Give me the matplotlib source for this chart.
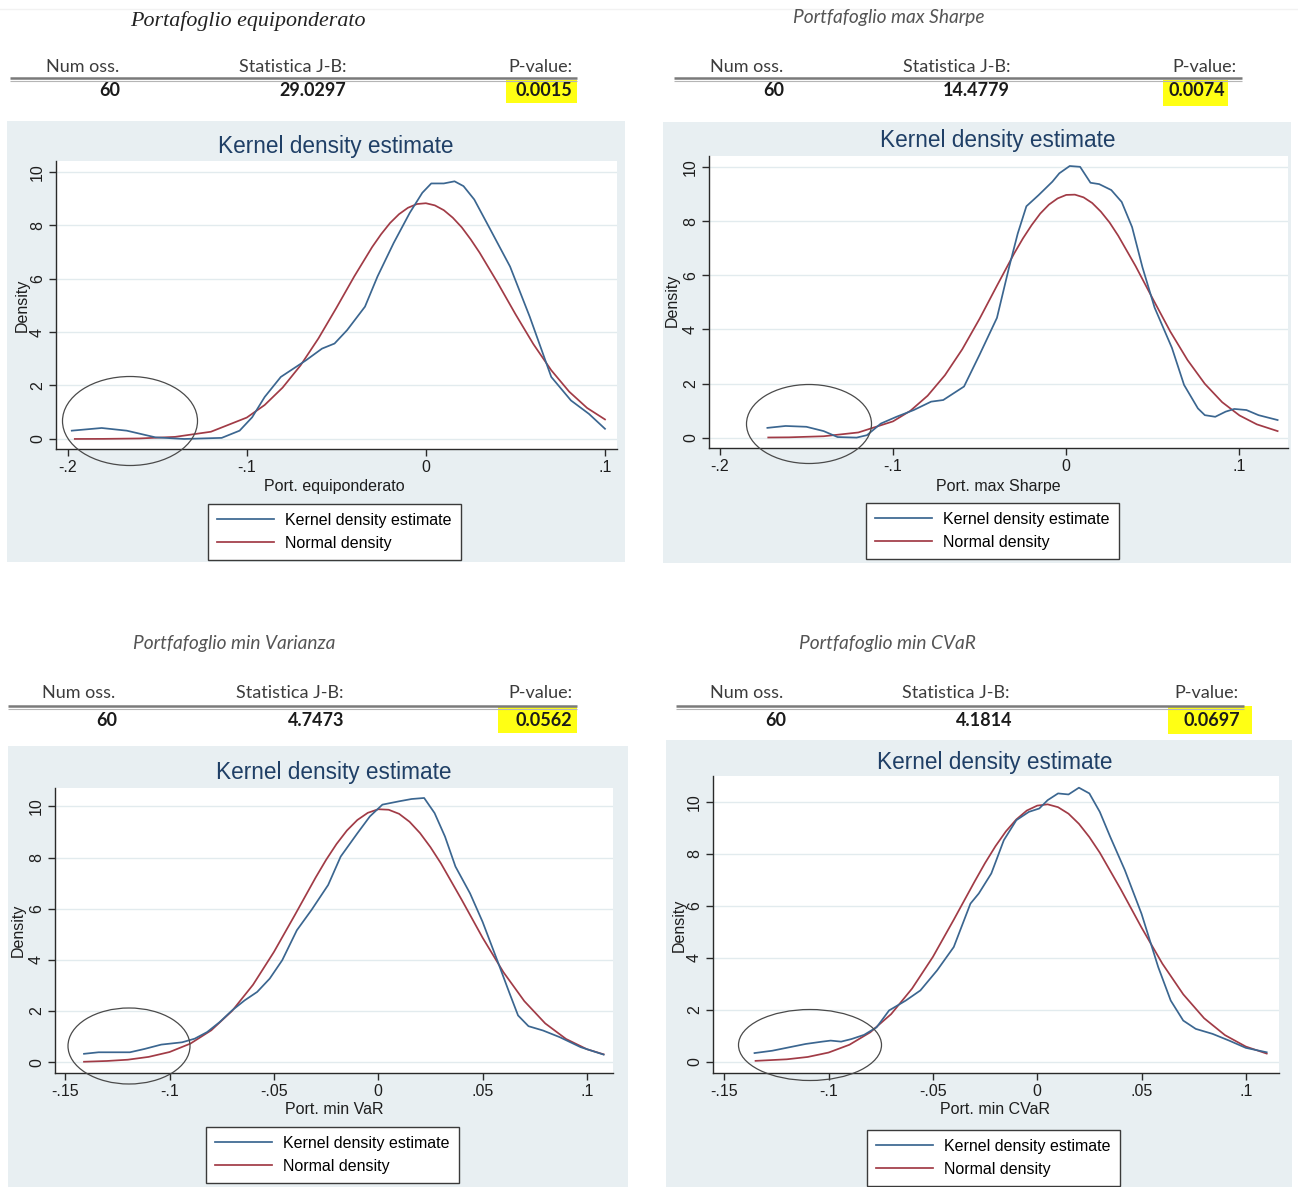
import matplotlib
matplotlib.use("Agg")
import matplotlib.pyplot as plt
from matplotlib.patches import Rectangle, Ellipse

W, H = 1298, 1187

# ---------------- data ----------------
titles = ["Portafoglio equiponderato", "Portfafoglio max Sharpe",
          "Portfafoglio min Varianza", "Portfafoglio min CVaR"]
header_labels = ["Num oss.", "Statistica J-B:", "P-value:"]
num_obs = ["60", "60", "60", "60"]
jb_stat = ["29.0297", "14.4779", "4.7473", "4.1814"]
p_values = ["0.0015", "0.0074", "0.0562", "0.0697"]
x_labels = ["Port. equiponderato", "Port. max Sharpe", "Port. min VaR", "Port. min CVaR"]
legend_labels = ["Kernel density estimate", "Normal density"]
plot_title = "Kernel density estimate"
y_label = "Density"

y_ticks = [0, 2, 4, 6, 8, 10]
y_ticklabels = ["0", "2", "4", "6", "8", "10"]
x_ticks_top = [-0.2, -0.1, 0.0, 0.1]
x_ticklabels_top = ["-.2", "-.1", "0", ".1"]
x_ticks_bottom = [-0.15, -0.1, -0.05, 0.0, 0.05, 0.1]
x_ticklabels_bottom = ["-.15", "-.1", "-.05", "0", ".05", ".1"]

# Panel 1: equiponderato
kde1_x = [-0.1977, -0.181, -0.167, -0.151, -0.135, -0.114, -0.104, -0.097, -0.090, -0.081,
          -0.067, -0.058, -0.051, -0.044, -0.034, -0.027, -0.018, -0.009, -0.002, 0.003,
          0.010, 0.016, 0.021, 0.027, 0.035, 0.047, 0.058, 0.070, 0.081, 0.091, 0.100]
kde1_y = [0.31, 0.41, 0.31, 0.06, 0.00, 0.04, 0.31, 0.81, 1.57, 2.32,
          2.94, 3.38, 3.57, 4.07, 4.95, 6.08, 7.33, 8.46, 9.21, 9.56,
          9.56, 9.64, 9.46, 8.96, 7.96, 6.45, 4.57, 2.32, 1.44, 0.94, 0.38]
norm1_x = [-0.196, -0.18, -0.16, -0.14, -0.12, -0.10, -0.09, -0.08, -0.07, -0.06, -0.05,
           -0.04, -0.03, -0.025, -0.02, -0.015, -0.01, -0.005, 0.0, 0.005, 0.01, 0.015,
           0.02, 0.025, 0.03, 0.04, 0.05, 0.06, 0.07, 0.08, 0.09, 0.10]
norm1_y = [0.00, 0.003, 0.018, 0.078, 0.27, 0.80, 1.27, 1.92, 2.75, 3.76, 4.90,
           6.08, 7.18, 7.66, 8.08, 8.41, 8.65, 8.79, 8.82, 8.74, 8.56, 8.28,
           7.92, 7.47, 6.97, 5.85, 4.67, 3.55, 2.57, 1.77, 1.16, 0.73]

# Panel 2: max Sharpe
kde2_x = [-0.1725, -0.162, -0.150, -0.140, -0.132, -0.121, -0.115, -0.107, -0.098, -0.088,
          -0.078, -0.071, -0.059, -0.050, -0.040, -0.033, -0.028, -0.023, -0.016, -0.008,
          -0.004, 0.002, 0.008, 0.014, 0.019, 0.026, 0.032, 0.038, 0.044, 0.051,
          0.061, 0.068, 0.076, 0.080, 0.086, 0.092, 0.097, 0.104, 0.111, 0.122]
kde2_y = [0.36, 0.43, 0.40, 0.24, 0.02, 0.00, 0.09, 0.52, 0.77, 1.02,
          1.33, 1.39, 1.89, 3.07, 4.43, 6.30, 7.55, 8.56, 8.97, 9.47,
          9.78, 10.05, 10.02, 9.43, 9.38, 9.16, 8.72, 7.79, 6.30, 4.81,
          3.32, 1.95, 1.08, 0.83, 0.77, 0.96, 1.06, 1.02, 0.83, 0.65]
norm2_x = [-0.172, -0.16, -0.14, -0.12, -0.10, -0.09, -0.08, -0.07, -0.06, -0.05, -0.04,
           -0.03, -0.025, -0.02, -0.015, -0.01, -0.005, 0.0, 0.005, 0.01, 0.015, 0.02,
           0.025, 0.03, 0.04, 0.05, 0.06, 0.07, 0.08, 0.09, 0.10, 0.11, 0.122]
norm2_y = [0.004, 0.01, 0.05, 0.19, 0.60, 0.99, 1.55, 2.31, 3.27, 4.40, 5.62,
           6.82, 7.37, 7.86, 8.29, 8.62, 8.85, 8.98, 8.99, 8.89, 8.68, 8.36,
           7.96, 7.47, 6.35, 5.13, 3.93, 2.87, 1.99, 1.31, 0.82, 0.49, 0.24]

# Panel 3: min Varianza
kde3_x = [-0.141, -0.134, -0.126, -0.119, -0.112, -0.104, -0.094, -0.088, -0.082, -0.076,
          -0.070, -0.064, -0.058, -0.052, -0.046, -0.039, -0.032, -0.024, -0.018, -0.010,
          -0.004, 0.002, 0.010, 0.016, 0.022, 0.027, 0.032, 0.037, 0.044, 0.050,
          0.057, 0.063, 0.067, 0.072, 0.079, 0.087, 0.097, 0.108]
kde3_y = [0.33, 0.39, 0.39, 0.39, 0.52, 0.69, 0.78, 0.92, 1.18, 1.57,
          2.03, 2.42, 2.75, 3.27, 3.99, 5.16, 5.95, 6.93, 8.04, 8.95,
          9.61, 10.07, 10.20, 10.29, 10.33, 9.74, 8.82, 7.65, 6.60, 5.49,
          3.99, 2.68, 1.83, 1.41, 1.24, 0.98, 0.59, 0.30]
norm3_x = [-0.141, -0.13, -0.12, -0.11, -0.10, -0.09, -0.08, -0.07, -0.06, -0.05, -0.04,
           -0.03, -0.025, -0.02, -0.015, -0.01, -0.005, 0.0, 0.005, 0.01, 0.015, 0.02,
           0.025, 0.03, 0.04, 0.05, 0.06, 0.07, 0.08, 0.09, 0.10, 0.108]
norm3_y = [0.02, 0.05, 0.10, 0.21, 0.40, 0.73, 1.25, 2.01, 3.03, 4.31, 5.75,
           7.22, 7.91, 8.53, 9.06, 9.47, 9.75, 9.89, 9.87, 9.71, 9.40, 8.96,
           8.41, 7.78, 6.35, 4.87, 3.52, 2.39, 1.52, 0.91, 0.51, 0.31]

# Panel 4: min CVaR
kde4_x = [-0.1355, -0.127, -0.119, -0.111, -0.103, -0.099, -0.094, -0.089, -0.083, -0.077,
          -0.071, -0.063, -0.056, -0.048, -0.040, -0.032, -0.028, -0.022, -0.016, -0.010,
          -0.004, 0.001, 0.005, 0.010, 0.015, 0.020, 0.025, 0.030, 0.035, 0.042,
          0.050, 0.058, 0.064, 0.070, 0.076, 0.084, 0.092, 0.100, 0.110]
kde4_y = [0.33, 0.42, 0.55, 0.68, 0.77, 0.81, 0.77, 0.87, 1.03, 1.32,
          1.97, 2.35, 2.74, 3.51, 4.41, 6.08, 6.47, 7.24, 8.52, 9.29,
          9.61, 9.74, 10.06, 10.32, 10.28, 10.54, 10.32, 9.61, 8.65, 7.37,
          5.69, 3.64, 2.35, 1.58, 1.26, 1.07, 0.81, 0.53, 0.36]
norm4_x = [-0.135, -0.12, -0.11, -0.10, -0.09, -0.08, -0.07, -0.06, -0.05, -0.04,
           -0.03, -0.025, -0.02, -0.015, -0.01, -0.005, 0.0, 0.005, 0.01, 0.015, 0.02,
           0.025, 0.03, 0.04, 0.05, 0.06, 0.07, 0.08, 0.09, 0.10, 0.11]
norm4_y = [0.03, 0.09, 0.18, 0.35, 0.65, 1.13, 1.83, 2.81, 4.03, 5.46,
           6.93, 7.64, 8.29, 8.86, 9.32, 9.66, 9.85, 9.90, 9.79, 9.54, 9.15,
           8.64, 8.04, 6.64, 5.16, 3.77, 2.59, 1.67, 1.02, 0.58, 0.31]

kde_x = [kde1_x, kde2_x, kde3_x, kde4_x]
kde_y = [kde1_y, kde2_y, kde3_y, kde4_y]
norm_x = [norm1_x, norm2_x, norm3_x, norm4_x]
norm_y = [norm1_y, norm2_y, norm3_y, norm4_y]

# ---------------- layout (pixels) ----------------
panels = [
    dict(bg=(7, 121, 625, 562), ax=(56, 161, 617, 449), xlim=(-0.2065, 0.1067), ylim=(-0.376, 10.4),
         title=(336, 147), ylab=(22, 305), xlab=(334, 487), leg=(208, 504), ell=(130, 421, 135, 89),
         top=True,
         head=dict(t=(248, 21), serif=True, hy=67, nx=83, sx=293, pr=572, rule=(10, 577, 78),
                   vy=91, vr=(120, 346, 572), hl=(506, 80, 577, 103))),
    dict(bg=(663, 122, 1291, 563), ax=(709, 156, 1288, 448), xlim=(-0.2062, 0.128), ylim=(-0.385, 10.42),
         title=(998, 141), ylab=(672, 300), xlab=(998, 487), leg=(866, 503), ell=(809, 424, 125, 79),
         top=True,
         head=dict(t=(889, 17), serif=False, hy=67, nx=747, sx=957, pr=1237, rule=(674, 1242, 78),
                   vy=91, vr=(784, 1010, 1225), hl=(1163, 80, 1228, 106))),
    dict(bg=(8, 746, 628, 1187), ax=(55, 788, 613, 1073), xlim=(-0.1549, 0.1125), ylim=(-0.42, 10.72),
         title=(334, 773), ylab=(18, 930), xlab=(334, 1109), leg=(206, 1127), ell=(129, 1046, 122, 76),
         top=False,
         head=dict(t=(234, 643), serif=False, hy=693, nx=79, sx=290, pr=572, rule=(8, 577, 706),
                   vy=720, vr=(117, 344, 572), hl=(498, 706, 577, 733))),
    dict(bg=(666, 740, 1292, 1187), ax=(713, 776, 1279, 1073), xlim=(-0.1554, 0.1159), ylim=(-0.437, 10.99),
         title=(995, 762), ylab=(679, 925), xlab=(995, 1110), leg=(867, 1130), ell=(810, 1045, 143, 71),
         top=False,
         head=dict(t=(887, 643), serif=False, hy=693, nx=747, sx=956, pr=1238, rule=(676, 1244, 706),
                   vy=720, vr=(786, 1012, 1240), hl=(1168, 706, 1252, 734))),
]

BG = "#e8eff2"
GRID = "#e2ebee"
BLUE = "#3b6690"
RED = "#a13b46"
NAVY = "#1f3f66"
STATA_FONT = ["Liberation Sans", "DejaVu Sans"]
HEAD_FONT = ["Lato", "DejaVu Sans"]

fig = plt.figure(figsize=(W / 100, H / 100), dpi=100)
fig.patch.set_facecolor("white")

# background overlay (pixel coordinates)
bg_ax = fig.add_axes([0, 0, 1, 1], zorder=0)
bg_ax.set_xlim(0, W)
bg_ax.set_ylim(H, 0)
bg_ax.axis("off")

# foreground overlay
fg_ax = fig.add_axes([0, 0, 1, 1], zorder=5)
fg_ax.set_xlim(0, W)
fg_ax.set_ylim(H, 0)
fg_ax.axis("off")
fg_ax.patch.set_alpha(0)

fg_ax.plot([0, W], [9, 9], color="#f2f2f2", lw=1.0)


def frac(box):
    x0, y0, x1, y1 = box
    return [x0 / W, 1 - y1 / H, (x1 - x0) / W, (y1 - y0) / H]


for i, p in enumerate(panels):
    bx0, by0, bx1, by1 = p["bg"]
    bg_ax.add_patch(Rectangle((bx0, by0), bx1 - bx0, by1 - by0, facecolor=BG, edgecolor="none"))

    ax = fig.add_axes(frac(p["ax"]), zorder=2)
    ax.set_facecolor("white")
    ax.set_xlim(*p["xlim"])
    ax.set_ylim(*p["ylim"])
    for yv in y_ticks:
        ax.axhline(yv, color=GRID, lw=1.0, zorder=0)
    l1, = ax.plot(kde_x[i], kde_y[i], color=BLUE, lw=1.25, zorder=3)
    l2, = ax.plot(norm_x[i], norm_y[i], color=RED, lw=1.25, zorder=2)

    for s in ["top", "right"]:
        ax.spines[s].set_visible(False)
    for s in ["left", "bottom"]:
        ax.spines[s].set_color("#2a2a2a")
        ax.spines[s].set_linewidth(1.0)

    ax.set_yticks(y_ticks)
    ax.set_yticklabels(y_ticklabels, rotation=90, va="center", family=STATA_FONT)
    if p["top"]:
        ax.set_xticks(x_ticks_top)
        ax.set_xticklabels(x_ticklabels_top, family=STATA_FONT)
    else:
        ax.set_xticks(x_ticks_bottom)
        ax.set_xticklabels(x_ticklabels_bottom, family=STATA_FONT)
    ax.tick_params(direction="out", length=5, width=1, color="#2a2a2a", labelsize=11.5,
                   labelcolor="#1e1e1e", pad=3)

    ax0, ay0, ax1, ay1 = p["ax"]
    aw, ah = ax1 - ax0, ay1 - ay0

    def to_ax(px, py):
        return ((px - ax0) / aw, (ay1 - py) / ah)

    tx, ty = to_ax(*p["title"])
    ax.set_title(plot_title, x=tx, y=ty, va="center", ha="center", color=NAVY,
                 fontsize=16.3, family=STATA_FONT, pad=0)
    ax.set_ylabel(y_label, fontsize=11.5, family=STATA_FONT, color="#1e1e1e", va="center")
    ax.yaxis.set_label_coords(*to_ax(*p["ylab"]))
    ax.set_xlabel(x_labels[i], fontsize=11.5, family=STATA_FONT, color="#1e1e1e", va="center")
    ax.xaxis.set_label_coords(*to_ax(*p["xlab"]))

    lx, ly = p["leg"]
    leg = ax.legend([l1, l2], legend_labels, loc="upper left",
                    bbox_to_anchor=(lx / W, 1 - ly / H), bbox_transform=fig.transFigure,
                    borderaxespad=0, frameon=True, fancybox=False, framealpha=1,
                    edgecolor="#3a3a3a", facecolor="white",
                    prop=dict(family=STATA_FONT, size=11.5),
                    borderpad=0.55, handlelength=3.6, handletextpad=0.7, labelspacing=0.5)
    leg.get_frame().set_linewidth(1.0)

    # circled region (annotation ellipse)
    ex, ey, ew, eh = p["ell"]
    fg_ax.add_patch(Ellipse((ex, ey), ew, eh, fill=False, edgecolor="#4a4a4a", lw=0.9))

    # header block
    hd = p["head"]
    if hd["serif"]:
        fg_ax.text(hd["t"][0], hd["t"][1], titles[i], ha="center", va="center", fontsize=15.8,
                   style="italic", family=["Liberation Serif", "DejaVu Serif"], color="#222222")
    else:
        fg_ax.text(hd["t"][0], hd["t"][1], titles[i], ha="center", va="center", fontsize=13.8,
                   style="italic", family=HEAD_FONT, color="#555555")
    fg_ax.text(hd["nx"], hd["hy"], header_labels[0], ha="center", va="center", fontsize=13,
               family=HEAD_FONT, color="#3c3c3c")
    fg_ax.text(hd["sx"], hd["hy"], header_labels[1], ha="center", va="center", fontsize=13,
               family=HEAD_FONT, color="#3c3c3c")
    fg_ax.text(hd["pr"], hd["hy"], header_labels[2], ha="right", va="center", fontsize=13,
               family=HEAD_FONT, color="#3c3c3c")
    rx0, rx1, ry = hd["rule"]
    hx0, hy0, hx1, hy1 = hd["hl"]
    bg_ax.add_patch(Rectangle((hx0, hy0), hx1 - hx0, hy1 - hy0, facecolor="#ffff14", edgecolor="none"))
    fg_ax.plot([rx0, rx1], [ry, ry], color="#7a7a7a", lw=1.8, solid_capstyle="butt")
    fg_ax.plot([rx0, rx1], [ry + 2.5, ry + 2.5], color="#b5b5b5", lw=0.8, solid_capstyle="butt")
    vals = [num_obs[i], jb_stat[i], p_values[i]]
    for v, xr in zip(vals, hd["vr"]):
        fg_ax.text(xr, hd["vy"], v, ha="right", va="center", fontsize=13, fontweight="bold",
                   family=HEAD_FONT, color="#1a1a1a")

fig.savefig("out.png", dpi=100, facecolor="white")
